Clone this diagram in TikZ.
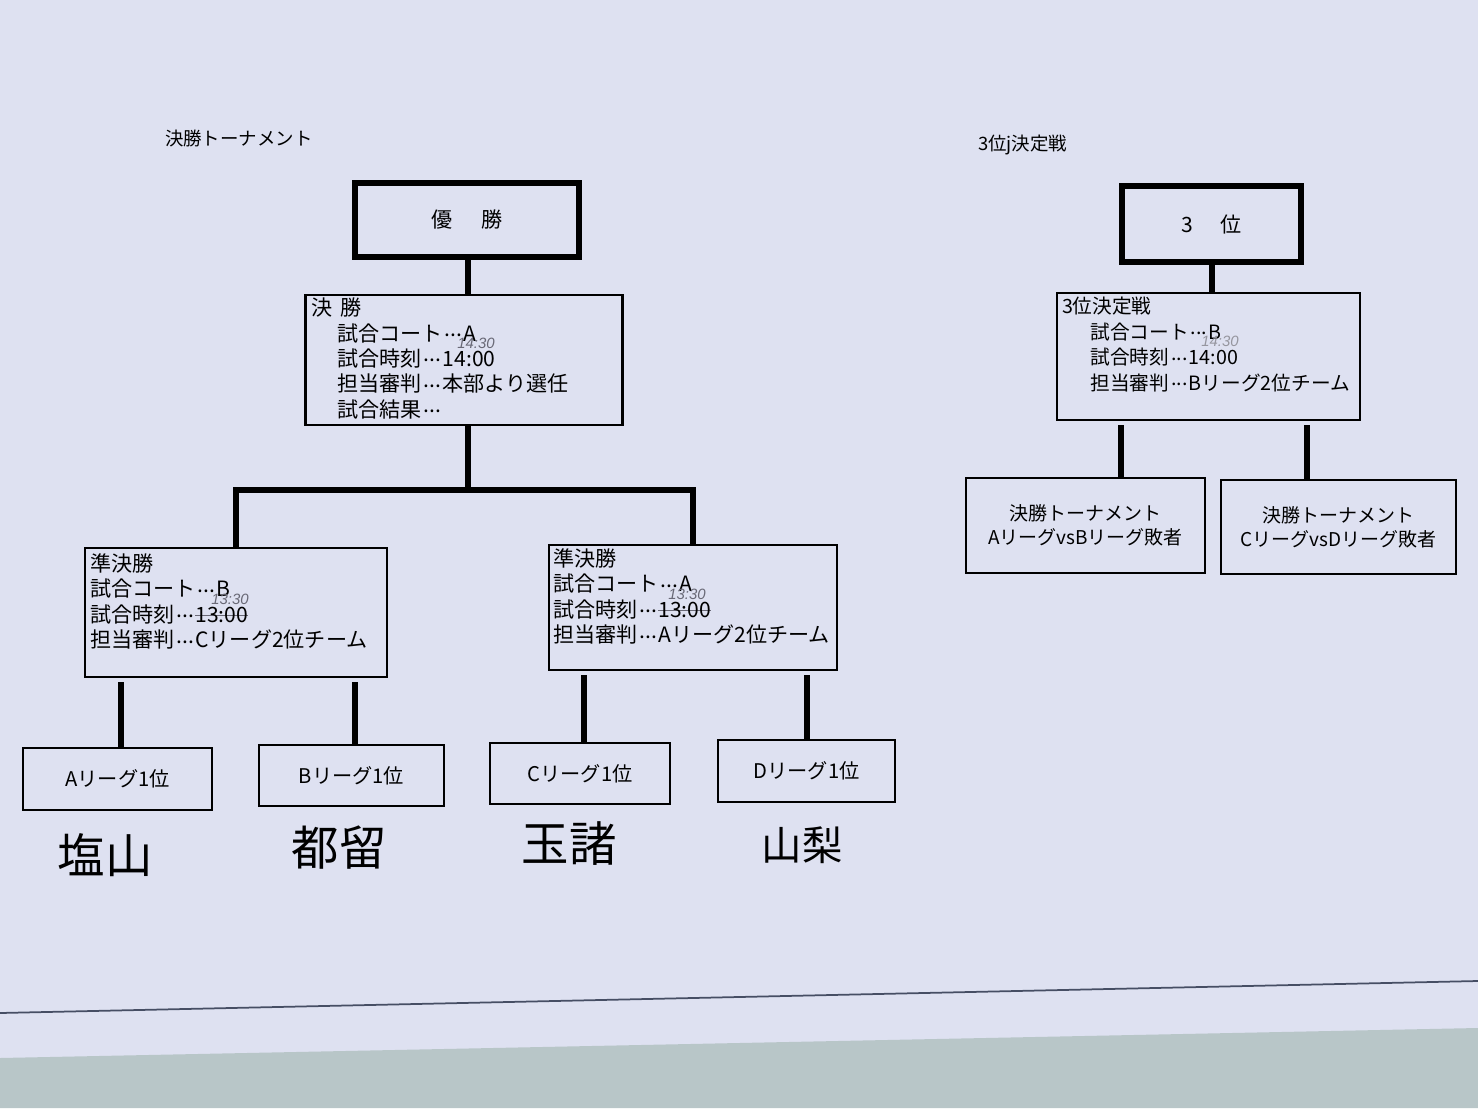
\documentclass[tikz,border=0pt]{standalone}
\usepackage{fontspec}
\setmainfont{Noto Sans CJK JP}
\newfontfamily\pencilfont{Liberation Sans}
\usepackage{tikz}
\usetikzlibrary{calc,positioning}
\definecolor{paper}{RGB}{222,225,241}
\definecolor{desk}{RGB}{184,198,200}
\definecolor{edge}{RGB}{70,78,100}
\definecolor{pencil}{RGB}{105,105,118}
\newlength\strikewd
\newcommand{\struck}[1]{\settowidth{\strikewd}{#1}\rlap{\textcolor{pencil}{\rule[0.3em]{\strikewd}{0.6pt}}}#1}
\newcommand{\cjkdot}{\raisebox{0.22em}{.}}
\newcommand{\cjkdots}{\makebox[1em][s]{\hspace{0.1em}\cjkdot\hfil\cjkdot\hfil\cjkdot\hspace{0.1em}}}

\begin{document}
\begin{tikzpicture}[x=0.2mm,y=-0.2mm,
  every node/.style={inner sep=0pt, outer sep=0pt},
  heavybox/.style={draw, line width=1.2mm},
  thinbox/.style={draw, line width=1.3pt},
  link/.style={line width=1.2mm},
  boxtext/.style={align=left, font=\fontsize{12pt}{14.5pt}\selectfont},
  leaftext/.style={font=\fontsize{11.5pt}{14pt}\selectfont},
  headtext/.style={font=\fontsize{10.5pt}{13pt}\selectfont},
  handtext/.style={font=\fontsize{27pt}{30pt}\selectfont},
  note/.style={text=pencil, font=\pencilfont\itshape\fontsize{8.5pt}{10pt}\selectfont}]
\useasboundingbox (0,0) rectangle (1478,1108);
\fill[paper] (0,0) rectangle (1478,1108);
\fill[desk] (0,1058) -- (1478,1028) -- (1478,1108) -- (0,1108) -- cycle;
\draw[edge, line width=0.35mm] (0,1013) -- (1478,981);

% headings
\node[headtext, anchor=west] (head1) at (165,138) {決勝トーナメント};
\node[headtext, anchor=west] (head2) at (978,145) {3位j決定戦};

% final tournament
\node[heavybox, minimum width=44.8mm, minimum height=14.8mm, font=\fontsize{12pt}{14pt}\selectfont] (champ) at (467,220) {優\hspace{1.4em}勝};
\node[thinbox, minimum width=63.4mm, minimum height=26mm] (final) at (464,360) {};
\node[boxtext, anchor=west] (finaltext) at (311,358.5) {決\hspace{0.4em}勝\\
\hspace*{1.25em}試合コート\cjkdots A\\
\hspace*{1.25em}試合時刻\cjkdots 14:00\\
\hspace*{1.25em}担当審判\cjkdots 本部より選任\\
\hspace*{1.25em}試合結果\cjkdots};
\node[note] (notefinal) at (476,343) {14:30};

\node[thinbox, minimum width=60.4mm, minimum height=25.8mm] (semiL) at (236,612.5) {};
\node[boxtext, anchor=west] (semiLtext) at (90,601.5) {準決勝\\
試合コート\cjkdots B\\
試合時刻\cjkdots\struck{13:00}\\
担当審判\cjkdots Cリーグ2位チーム};
\node[note] (notesemiL) at (230,599) {13:30};

\node[thinbox, minimum width=57.6mm, minimum height=25mm] (semiR) at (693,607.5) {};
\node[boxtext, anchor=west] (semiRtext) at (553,596.5) {準決勝\\
試合コート\cjkdots A\\
試合時刻\cjkdots\struck{13:00}\\
担当審判\cjkdots Aリーグ2位チーム};
\node[note] (notesemiR) at (687,594) {13:30};

\node[thinbox, leaftext, minimum width=37.8mm, minimum height=12.4mm] (leafA) at (117.5,779) {Aリーグ1位};
\node[thinbox, leaftext, minimum width=37mm, minimum height=12.2mm] (leafB) at (351.5,775.5) {Bリーグ1位};
\node[thinbox, leaftext, minimum width=36mm, minimum height=12.2mm] (leafC) at (580,773.5) {Cリーグ1位};
\node[thinbox, leaftext, minimum width=35.4mm, minimum height=12.4mm] (leafD) at (806.5,771) {Dリーグ1位};

\node[handtext] (nameA) at (105,855) {塩山};
\node[handtext] (nameB) at (339,848) {都留};
\node[handtext] (nameC) at (569,844) {玉諸};
\node[handtext, font=\fontsize{23pt}{26pt}\selectfont] (nameD) at (802,845) {山梨};

% third place
\node[heavybox, minimum width=35.8mm, minimum height=15.2mm, font=\fontsize{12pt}{14pt}\selectfont] (third) at (1211.5,224) {3\hspace{1.3em}位};
\node[thinbox, minimum width=60.6mm, minimum height=25.4mm] (game3) at (1208.5,356.5) {};
\node[boxtext, anchor=west, font=\fontsize{11.2pt}{14.5pt}\selectfont] (game3text) at (1062,344.5) {3位決定戦\\
\hspace*{1.45em}試合コート\cjkdots B\\
\hspace*{1.45em}試合時刻\cjkdots 14:00\\
\hspace*{1.45em}担当審判\cjkdots Bリーグ2位チーム};
\node[note, text=pencil!70] (notegame3) at (1220,341) {14:30};

\node[thinbox, align=center, font=\fontsize{10.8pt}{13.6pt}\selectfont, minimum width=47.8mm, minimum height=19mm] (loseL) at (1085.5,525.5) {決勝トーナメント\\AリーグvsBリーグ敗者};
\node[thinbox, align=center, font=\fontsize{10.8pt}{13.6pt}\selectfont, minimum width=47mm, minimum height=18.8mm] (loseR) at (1338.5,527) {決勝トーナメント\\CリーグvsDリーグ敗者};

% connectors
\coordinate (fork) at (468,490);
\draw[link] (champ.south -| fork) -- (fork |- final.north);
\draw[link] (fork |- final.south) -- (fork);
\draw[link] (semiL.north) |- (fork) -| (semiR.north);
\draw[link] (third.south) -- (third.south |- game3.north);
\foreach \parent/\child/\f in {semiL/leafA/0.12, semiL/leafB/0.895, semiR/leafC/0.12, semiR/leafD/0.895, game3/loseL/0.21, game3/loseR/0.825}{
	\draw[link, shorten <=1mm] ($(\parent.south west)!\f!(\parent.south east)$)
	coordinate (s) -- (s |- \child.north);
}
\end{tikzpicture}
\end{document}
